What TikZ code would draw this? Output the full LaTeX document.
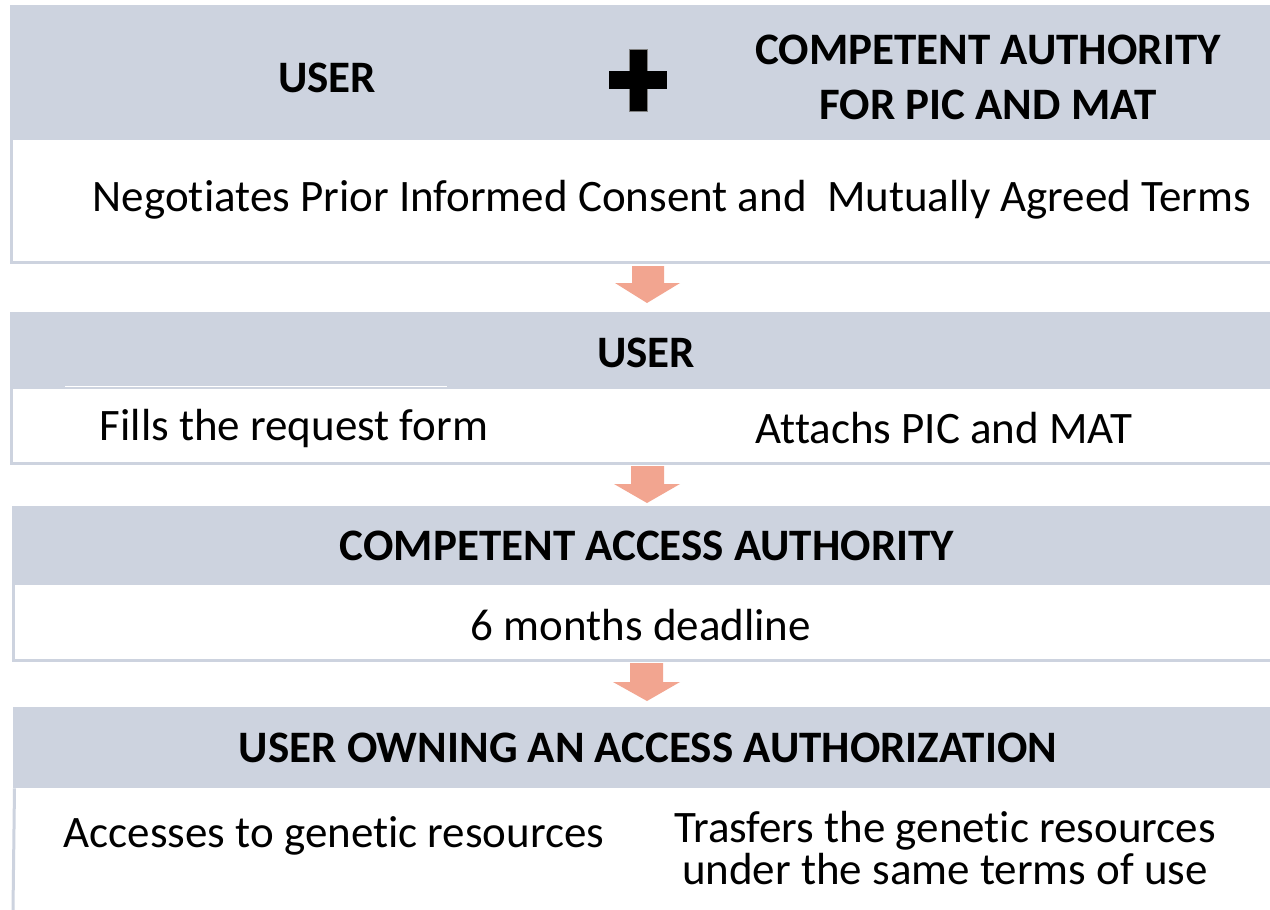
\documentclass[tikz,border=0pt]{standalone}
\usepackage{fontspec}
\setmainfont{Carlito}[Ligatures={NoCommon}]
\definecolor{hdrc}{HTML}{CDD3DF}
\definecolor{bordc}{HTML}{CDD3DF}
\definecolor{arrc}{HTML}{F2A590}
\tikzset{
  hdr/.style={fill=hdrc, draw=none, anchor=north west, inner sep=0pt, minimum width=1260pt},
  bodybox/.style={fill=white, draw=none, anchor=north west, inner sep=0pt, minimum width=1260pt},
  border/.style={draw=bordc, line width=3pt},
  htext/.style={font=\bfseries\fontsize{45}{55}\selectfont, align=center, inner sep=0pt},
  btext/.style={font=\fontsize{45}{42}\selectfont, align=center, inner sep=0pt},
  blockarrow/.style={fill=arrc, draw=none},
}
\begin{document}
\begin{tikzpicture}[x=1pt,y=-1pt]
\useasboundingbox (0,0) rectangle (1270,910);
\fill[white] (0,0) rectangle (1270,910);
% Block 1
\node[hdr, minimum height=135pt] (h1) at (10,5) {};
\node[bodybox, minimum height=122pt] (b1) at (10,140) {};
\draw[border] (h1.south west) ++(1.5,0) |- (b1.south east);
\node[htext] (t1a) at (327,78) {USER};
\node[htext] (t1b) at (988,77) {COMPETENT AUTHORITY\\FOR PIC AND MAT};
\node[fill=black, draw=gray, line width=0.5pt, minimum width=18pt, minimum height=62pt, inner sep=0pt] (plusv) at (638,80) {};
\node[fill=black, draw=none, minimum width=58pt, minimum height=18pt, inner sep=0pt] (plush) at (638,80) {};
\node[fill=black, draw=none, minimum width=17pt, minimum height=61pt, inner sep=0pt] (plusc) at (638,80) {};
\node[btext] (t1c) at (672,200) {Negotiates Prior Informed Consent and\ \ Mutually Agreed Terms};
% Arrow 1
\fill[blockarrow] (632,266) -- (664,266) -- (664,283) -- (680,283) -- (647,303) -- (615,283) -- (632,283) -- cycle;
% Block 2
\node[hdr, minimum height=77pt] (h2) at (10,312) {};
\node[bodybox, minimum height=74pt] (b2) at (10,389) {};
\draw[border] (h2.south west) ++(1.5,0) |- (b2.south east);
\draw[white, line width=1pt] (65,386) -- (447,386);
\node[htext] (t2a) at (646,353) {USER};
\node[btext] (t2b) at (294,428) {Fills the request form};
\node[btext] (t2c) at (944,428) {Attachs PIC and MAT};
% Arrow 2
\fill[blockarrow] (631,466) -- (664,466) -- (664,484) -- (680,484) -- (647,503) -- (614,484) -- (631,484) -- cycle;
% Block 3
\node[hdr, minimum height=79pt] (h3) at (12,506) {};
\node[bodybox, minimum height=75pt] (b3) at (12,585) {};
\draw[border] (h3.south west) ++(1.5,0) |- (b3.south east);
\node[htext] (t3a) at (647,546) {COMPETENT ACCESS AUTHORITY};
\node[btext] (t3b) at (641,625) {6 months deadline};
% Arrow 3
\fill[blockarrow] (630,663) -- (663,663) -- (663,682) -- (680,682) -- (647,701) -- (613,682) -- (630,682) -- cycle;
% Block 4
\node[hdr, minimum height=81pt] (h4) at (13,707) {};
\node[bodybox, minimum height=122pt] (b4) at (13,788) {};
\draw[border] (h4.south west) ++(1.5,0) -- (b4.south west);
\node[htext] (t4a) at (648,748) {USER OWNING AN ACCESS AUTHORIZATION};
\node[btext] (t4b) at (334,836) {Accesses to genetic resources};
\node[btext] (t4c) at (945,848) {Trasfers the genetic resources\\under the same terms of use};
\end{tikzpicture}
\end{document}
